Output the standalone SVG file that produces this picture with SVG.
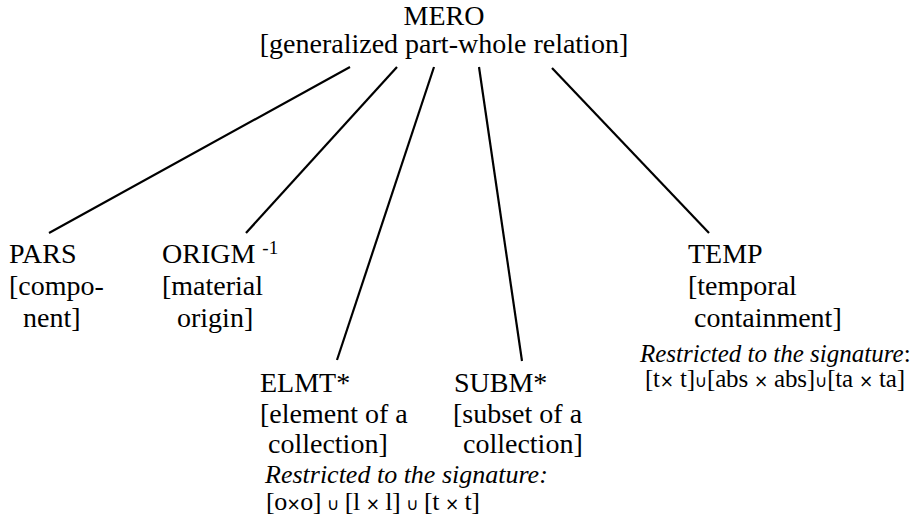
<svg xmlns="http://www.w3.org/2000/svg" width="918" height="526" viewBox="0 0 918 526">
  <style>
    text { font-family: "Liberation Serif", "Times New Roman", serif; fill: #000; }
    .t { font-size: 28px; }
    .sup { font-size: 19px; }
    .i26 { font-size: 26px; font-style: italic; }
    .s26 { font-size: 26px; }
    .i25 { font-size: 25px; font-style: italic; }
    .s25 { font-size: 25px; }
    .n { font-style: normal; }
    .sm { font-size: 17px; font-family: "DejaVu Sans", sans-serif; }
    .conn line { stroke: #000; stroke-width: 2.2; stroke-linecap: butt; }
  </style>

  <!-- edges from the root relation to its sub-relations -->
  <g id="connectors" class="conn">
    <line x1="350" y1="67" x2="49" y2="233"/>
    <line x1="397" y1="67" x2="246" y2="233"/>
    <line x1="434" y1="67" x2="337" y2="360"/>
    <line x1="479" y1="67" x2="522" y2="361"/>
    <line x1="552" y1="68" x2="709" y2="233"/>
  </g>

  <g id="mero">
    <text class="t" x="444" y="25" text-anchor="middle">MERO</text>
    <text class="t" x="444" y="53" text-anchor="middle">[generalized part-whole relation]</text>
  </g>

  <g id="pars">
    <text class="t" x="9" y="263">PARS</text>
    <text class="t" x="9" y="295">[compo-</text>
    <text class="t" x="23" y="327">nent]</text>
  </g>

  <g id="origm">
    <text class="t" x="162" y="263">ORIGM <tspan class="sup" dy="-9">-1</tspan></text>
    <text class="t" x="162" y="295">[material</text>
    <text class="t" x="177" y="327">origin]</text>
  </g>

  <g id="elmt">
    <text class="t" x="260" y="392">ELMT*</text>
    <text class="t" x="260" y="423">[element of a</text>
    <text class="t" x="268" y="453">collection]</text>
    <text class="i26" x="265" y="483">Restricted to the signature:</text>
    <text class="s26" x="266" y="510" textLength="214" lengthAdjust="spacing">[o<tspan class="sm">×</tspan>o] <tspan class="sm">∪</tspan> [l <tspan class="sm">×</tspan> l] <tspan class="sm">∪</tspan> [t <tspan class="sm">×</tspan> t]</text>
  </g>

  <g id="subm">
    <text class="t" x="454" y="392">SUBM*</text>
    <text class="t" x="453" y="423">[subset of a</text>
    <text class="t" x="463" y="453">collection]</text>
  </g>

  <g id="temp">
    <text class="t" x="688" y="263">TEMP</text>
    <text class="t" x="688" y="295">[temporal</text>
    <text class="t" x="694" y="327">containment]</text>
    <text class="i25" x="640" y="362">Restricted to the signature<tspan class="n">:</tspan></text>
    <text class="s25" x="645" y="387" textLength="260" lengthAdjust="spacing">[t<tspan class="sm">×</tspan> t]<tspan class="sm">∪</tspan>[abs <tspan class="sm">×</tspan> abs]<tspan class="sm">∪</tspan>[ta <tspan class="sm">×</tspan> ta]</text>
  </g>
</svg>
